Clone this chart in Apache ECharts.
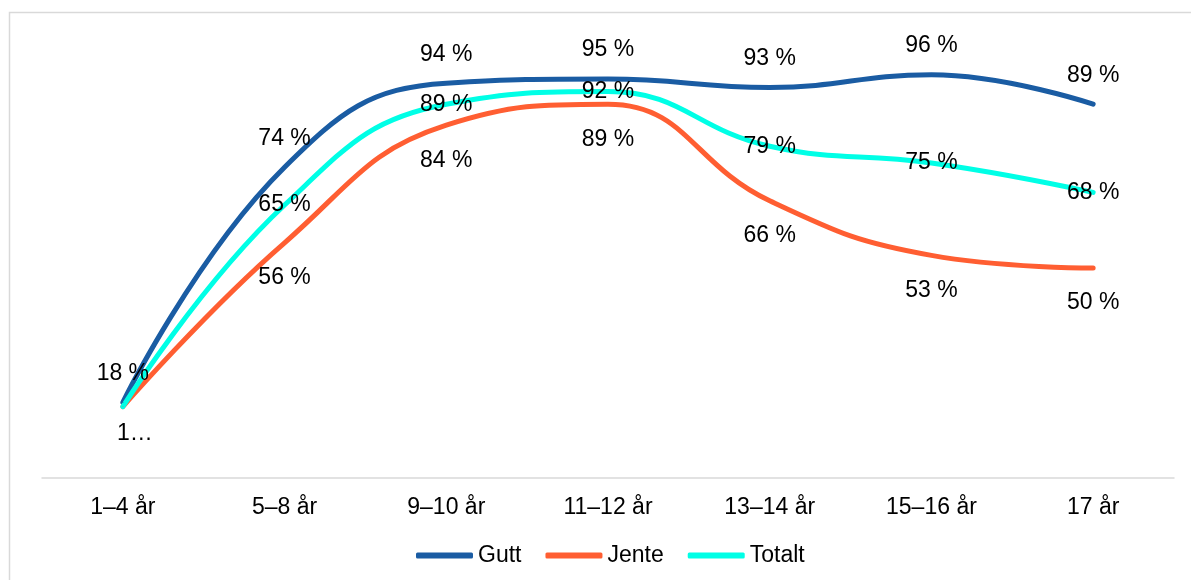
<!DOCTYPE html>
<html>
<head>
<meta charset="utf-8">
<script src="https://cdn.jsdelivr.net/npm/echarts@6/dist/echarts.min.js"></script>
<style>
html,body{margin:0;padding:0;background:#fff;}
#c{width:1191px;height:580px;}
</style>
</head>
<body>
<div id="c"></div>
<script>
const categories = ['1–4 år','5–8 år','9–10 år','11–12 år','13–14 år','15–16 år','17 år'];
const gutt   = [18, 74, 94, 95, 93, 96, 89];
const jente  = [17, 56, 84, 89, 66, 53, 50];
const totalt = [17, 65, 89, 92, 79, 75, 68];

const FONT = 'Liberation Sans, Arial, sans-serif';
const FS = 23;
const fmt = p => p.value + ' %';

function mk(name, values, color, pos, dist, firstLabel) {
  return {
    name: name,
    type: 'line',
    smooth: 0.45,
    symbol: 'circle',
    symbolSize: 1,
    showSymbol: true,
    itemStyle: { color: color },
    lineStyle: { color: color, width: 5, cap: 'round', join: 'round' },
    emphasis: { disabled: true },
    label: {
      show: true, position: pos, distance: dist, formatter: fmt,
      fontFamily: FONT, fontSize: FS, color: '#000'
    },
    data: values.map((v, i) => i === 0 && firstLabel ? { value: v, label: firstLabel } : v),
    z: 2
  };
}

const chart = echarts.init(document.getElementById('c'), null, { renderer: 'canvas' });
chart.setOption({
  animation: false,
  backgroundColor: '#fff',
  graphic: [{
    type: 'rect', silent: true, z: -10,
    shape: { x: 9.5, y: 12.5, width: 1300, height: 700 },
    style: { fill: 'none', stroke: '#d9d9d9', lineWidth: 1.5 }
  }],
  grid: { left: 42, right: 17, top: 58, bottom: 102 },
  xAxis: {
    type: 'category', data: categories, boundaryGap: true,
    axisLine: { show: true, lineStyle: { color: '#d9d9d9', width: 1.5 } },
    axisTick: { show: false },
    axisLabel: { margin: 18, fontFamily: FONT, fontSize: FS, color: '#000' }
  },
  yAxis: {
    type: 'value', min: 0, max: 100, show: false,
    splitLine: { show: false }
  },
  legend: {
    top: 539, left: 411,
    icon: 'roundRect', itemWidth: 57, itemHeight: 6, itemGap: 24,
    textStyle: { fontFamily: FONT, fontSize: FS, color: '#000' },
    data: ['Gutt', 'Jente', 'Totalt']
  },
  series: [
    mk('Gutt', gutt, '#1a5ca3', 'top', 17, null),
    mk('Jente', jente, '#ff5e32', 'bottom', 23, { width: 38, overflow: 'truncate', ellipsis: '…', distance: 15, offset: [12, 0] }),
    mk('Totalt', totalt, '#00ffe6', 'inside', 0, { show: false })
  ]
});
</script>
</body>
</html>
